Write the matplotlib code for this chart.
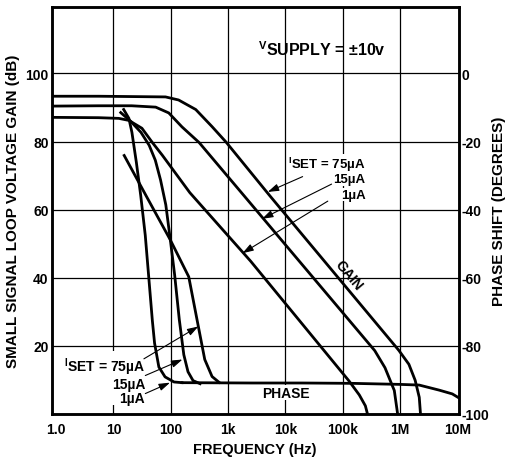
import matplotlib
matplotlib.use('Agg')
import matplotlib.pyplot as plt
from matplotlib.ticker import NullLocator

plt.rcParams['font.family'] = ['Liberation Sans', 'DejaVu Sans']
plt.rcParams['font.weight'] = 'bold'
plt.rcParams['mathtext.fontset'] = 'custom'
plt.rcParams['mathtext.rm'] = 'Liberation Sans:bold'
plt.rcParams['mathtext.it'] = 'Liberation Sans:bold:italic'
plt.rcParams['mathtext.bf'] = 'Liberation Sans:bold'

# open loop gain for the three set currents (Hz, dB)
gain_75_f = [0.83, 5.5, 81, 137, 273, 524, 927, 5340, 953e3, 1.43e6, 1.84e6, 2.17e6, 2.28e6]
gain_75_db = [93.3, 93.3, 93.1, 92.2, 89.4, 84.4, 79.8, 64.1, 18.7, 14.6, 9.9, 4.9, 0.0]

gain_15_f = [0.83, 5.5, 20.8, 54.6, 92.3, 157, 313, 5430, 363e3, 547e3, 796e3, 910e3]
gain_15_db = [90.4, 90.5, 90.5, 90.1, 88.4, 84.3, 79.7, 55.0, 18.6, 13.6, 6.9, 0.0]

gain_1_f = [0.83, 5.5, 12.4, 18.6, 31.4, 47.3, 71.1, 215, 2470, 129e3, 195e3, 249e3, 271e3]
gain_1_db = [87.1, 87.0, 86.8, 86.2, 83.9, 79.8, 76.0, 65.0, 44.9, 9.7, 5.6, 2.4, 0.0]

# phase shift (Hz, degrees)
phase_75_f = [15.4, 38.2, 98.4, 206, 303, 392, 526, 697]
phase_75_deg = [-24.1, -36.3, -48.9, -59.7, -74.3, -84.0, -89.0, -90.7]

phase_15_f = [13.4, 20.1, 30.2, 42, 53.8, 66.4, 82, 98.4, 117, 141, 169, 200, 245, 325]
phase_15_deg = [-11.5, -14.1, -17.3, -21.1, -25.5, -31.3, -38.6, -48.9, -59.2, -72.3,
                -82.6, -87.6, -90.2, -91.1]

phase_1_f = [15.1, 18.6, 21, 25.1, 29.9, 35.9, 41.3, 47.7, 52.2, 62, 79.6, 114, 157]
phase_1_deg = [-10.6, -13.2, -17.3, -26.1, -35.8, -47.5, -59.8, -72.5, -79.2, -86.2,
               -89.1, -90.6, -90.8]

# common phase line after the curves merge
phase_tail_f = [157, 2620, 19.6e3, 146e3, 968e3, 2.16e6, 4.85e6, 8.18e6, 10.5e6]
phase_tail_deg = [-90.8, -90.9, -90.9, -91.0, -91.3, -91.5, -93.0, -94.1, -95.2]

tick_freqs = [1, 10, 100, 1e3, 1e4, 1e5, 1e6, 1e7]
tick_labels = ['1.0', '10', '100', '1k', '10k', '100k', '1M', '10M']
grid_freqs = [10, 100, 1e3, 1e4, 1e5, 1e6]
gain_ticks = [20, 40, 60, 80, 100]
phase_ticks = [0, -20, -40, -60, -80, -100]

fig = plt.figure(figsize=(5.08, 4.6), dpi=100)
ax = fig.add_axes([51.5 / 508, 45 / 460, 407 / 508, 407 / 460])
ax.set_xscale('log')
ax.set_xlim(0.83, 1.05e7)
ax.set_ylim(0, 119.5)

for f in grid_freqs:
    ax.axvline(f, color='black', lw=0.9, zorder=1)
for g in gain_ticks:
    ax.axhline(g, color='black', lw=0.9, zorder=1)

lw = 2.0
ax.plot(gain_75_f, gain_75_db, color='black', lw=lw, zorder=3)
ax.plot(gain_15_f, gain_15_db, color='black', lw=lw, zorder=3)
ax.plot(gain_1_f, gain_1_db, color='black', lw=lw, zorder=3)

ax.set_xticks(tick_freqs, tick_labels)
ax.xaxis.set_minor_locator(NullLocator())
ax.set_yticks(gain_ticks, [str(g) for g in gain_ticks])
ax.tick_params(axis='x', length=0, pad=6, labelsize=10)
ax.tick_params(axis='y', length=0, pad=2, labelsize=10)
for s in ax.spines.values():
    s.set_linewidth(1.8)

ax.set_xlabel('FREQUENCY (Hz)', fontsize=10.5, fontweight='bold', labelpad=4)
ax.set_ylabel('SMALL SIGNAL LOOP VOLTAGE GAIN (dB)', fontsize=11,
              fontweight='bold', labelpad=4)

ax2 = ax.twinx()
ax2.set_ylim(-100, 19.5)
ax2.plot(phase_75_f, phase_75_deg, color='black', lw=lw)
ax2.plot(phase_15_f, phase_15_deg, color='black', lw=lw)
ax2.plot(phase_1_f, phase_1_deg, color='black', lw=lw)
ax2.plot(phase_tail_f, phase_tail_deg, color='black', lw=lw)
ax2.set_yticks(phase_ticks, [str(p) for p in phase_ticks])
ax2.tick_params(axis='y', length=0, pad=2, labelsize=10)
ax2.set_ylabel('PHASE SHIFT (DEGREES)', fontsize=11, fontweight='bold', labelpad=2)
for s in ax2.spines.values():
    s.set_linewidth(1.8)

wbox = dict(facecolor='white', edgecolor='none', pad=0.5)
arrow = dict(arrowstyle='-|>,head_length=0.55,head_width=0.18', color='black',
             lw=0.8, mutation_scale=12, shrinkA=0, shrinkB=0)

# annotations
ax.text(3.33e3, 105.4, r'$^{\mathrm{V}}$SUPPLY = ±10v', fontsize=11.5, ha='left',
        va='baseline', zorder=2.5)

ax.text(2.5e5, 72.3, r'$^{\mathrm{I}}$SET = 75µA', fontsize=9.5, ha='right',
        va='baseline', bbox=wbox, zorder=2.5)
ax.text(2.5e5, 68.0, '15µA', fontsize=9.5, ha='right', va='baseline', bbox=wbox, zorder=2.5)
ax.text(2.5e5, 63.5, '1µA', fontsize=9.5, ha='right', va='baseline', bbox=wbox, zorder=2.5)
ax.annotate('', xy=(4.93e3, 65.2), xytext=(2.0e4, 69.7), arrowprops=arrow, zorder=4)
ax.annotate('', xy=(3.92e3, 57.3), xytext=(6.4e4, 67.5), arrowprops=arrow, zorder=4)
ax.annotate('', xy=(1.78e3, 47.2), xytext=(5.5e4, 62.5), arrowprops=arrow, zorder=4)

ax.text(35.6, 3.6, '$^{\\mathrm{I}}$SET = 75µA\n15µA\n1µA', fontsize=10, ha='right',
        va='baseline', multialignment='right', linespacing=1.0, bbox=wbox, zorder=2.5)
ax.annotate('', xy=(303, 25.7), xytext=(34, 16.2), arrowprops=arrow, zorder=4)
ax.annotate('', xy=(160, 16.0), xytext=(36, 11.3), arrowprops=arrow, zorder=4)
ax.annotate('', xy=(97, 9.2), xytext=(36, 6.0), arrowprops=arrow, zorder=4)

ax.text(1.28e5, 40.8, 'GAIN', fontsize=10, rotation=-50, ha='center', va='center',
        rotation_mode='anchor', zorder=2.5)
ax.text(1.04e4, 6.3, 'PHASE', fontsize=10, ha='center', va='center', bbox=wbox,
        zorder=2.5)

fig.savefig('out.png', dpi=100)
